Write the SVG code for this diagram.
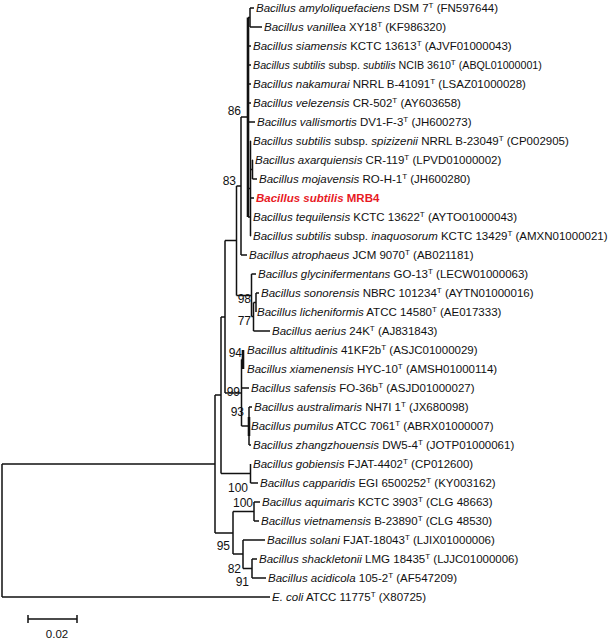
<svg xmlns="http://www.w3.org/2000/svg" width="610" height="642" viewBox="0 0 610 642">
<style>
text{font-family:"Liberation Sans",Arial,sans-serif;font-size:11.5px;fill:#111}
.i{font-style:italic}
.s{font-size:8px}
.bs{text-anchor:end;font-size:12px}
.red{fill:#e8191f;font-weight:bold}
.br{stroke:#111;stroke-width:1.5;fill:none}
.thick{stroke:#111;stroke-width:2.6;fill:none}
</style>
<rect width="610" height="642" fill="#fff"/>
<g id="connectors">
<path class="br" d="M2,464V597M2,464H215M2,597H270"/>
<path class="br" d="M215,395V533M215,395H221M215,533H233"/>
<path class="br" d="M221,317V473.5M221,317H225M221,473.5H250.5"/>
<path class="br" d="M225,240.5V393M225,240.5H236.5M225,393H241.5"/>
<path class="br" d="M236.5,186V295.5M236.5,186H241M236.5,295.5H251.5"/>
<path class="br" d="M241,117V255M241,117H248M241,255H247"/>
<path class="thick" d="M248,17.5V217"/>
<path class="br" d="M248,17.5H250M250,8V27M250,8H254M250,27H262"/>
<path class="br" d="M248,46H251M248,65H251M248,84H251M248,103H251M248,122H255M248,217H251"/>
<path class="br" d="M248,188.5H250.5M250.5,141V236M250.5,141H251M250.5,169.5H252.5M252.5,160V179M252.5,160H253M252.5,179H257M250.5,198H254M250.5,236H251"/>
<path class="br" d="M251.5,274V316.5M251.5,274H256M251.5,316.5H253.5M253.5,302.5V331M253.5,331H270M253.5,302.5H256M256,293V312M256,293H259"/>
<path class="thick" d="M243,350V369"/>
<path class="br" d="M241.5,359.5V426M241.5,359.5H243M241.5,388H249M241.5,426H249"/>
<path class="br" d="M249,407V445M249,407H252M249,445H251"/>
<path class="thick" d="M249,417V436"/>
<path class="br" d="M250.5,464V483M250.5,483H258"/>
<path class="br" d="M233,511.5V554M233,511.5H254M233,554H243"/>
<path class="br" d="M254,502V521M254,502H260M254,521H259"/>
<path class="br" d="M243,540V568.5M243,540H265M243,568.5H252"/>
<path class="br" d="M252,559V578M252,559H257M252,578H266"/>
<path class="br" d="M28,619H77M28,615V623M77,615V623"/>
</g>
<g id="bootstrap">
<text class="bs" x="241" y="115">86</text>
<text class="bs" x="236" y="185">83</text>
<text class="bs" x="251" y="303">98</text>
<text class="bs" x="251" y="325">77</text>
<text class="bs" x="242" y="357">94</text>
<text class="bs" x="240" y="396">99</text>
<text class="bs" x="244" y="416">93</text>
<text class="bs" x="248" y="492">100</text>
<text class="bs" x="253" y="507">100</text>
<text class="bs" x="230" y="550">95</text>
<text class="bs" x="241" y="573">82</text>
<text class="bs" x="249" y="586">91</text>
</g>
<g id="scale"><text x="57" y="638" text-anchor="middle" font-size="12">0.02</text></g>
<g id="leaf1"><text x="256" y="12"><tspan class="i">Bacillus amyloliquefaciens</tspan> DSM 7<tspan class="s" dy="-4">T</tspan><tspan dy="4"> (FN597644)</tspan></text></g>
<g id="leaf2"><text x="264" y="31"><tspan class="i">Bacillus vanillea</tspan> XY18<tspan class="s" dy="-4">T</tspan><tspan dy="4"> (KF986320)</tspan></text></g>
<g id="leaf3"><text x="253" y="50"><tspan class="i">Bacillus siamensis</tspan> KCTC 13613<tspan class="s" dy="-4">T</tspan><tspan dy="4"> (AJVF01000043)</tspan></text></g>
<g id="leaf4"><text x="253" y="69" style="font-size:10.7px"><tspan class="i">Bacillus subtilis</tspan> subsp. <tspan class="i">subtilis</tspan> NCIB 3610<tspan class="s" dy="-4">T</tspan><tspan dy="4"> (ABQL01000001)</tspan></text></g>
<g id="leaf5"><text x="253" y="88"><tspan class="i">Bacillus nakamurai</tspan> NRRL B-41091<tspan class="s" dy="-4">T</tspan><tspan dy="4"> (LSAZ01000028)</tspan></text></g>
<g id="leaf6"><text x="253" y="107"><tspan class="i">Bacillus velezensis</tspan> CR-502<tspan class="s" dy="-4">T</tspan><tspan dy="4"> (AY603658)</tspan></text></g>
<g id="leaf7"><text x="257" y="126"><tspan class="i">Bacillus vallismortis</tspan> DV1-F-3<tspan class="s" dy="-4">T</tspan><tspan dy="4"> (JH600273)</tspan></text></g>
<g id="leaf8"><text x="253" y="145"><tspan class="i">Bacillus subtilis</tspan> subsp. <tspan class="i">spizizenii</tspan> NRRL B-23049<tspan class="s" dy="-4">T</tspan><tspan dy="4"> (CP002905)</tspan></text></g>
<g id="leaf9"><text x="255" y="164"><tspan class="i">Bacillus axarquiensis</tspan> CR-119<tspan class="s" dy="-4">T</tspan><tspan dy="4"> (LPVD01000002)</tspan></text></g>
<g id="leaf10"><text x="259" y="183"><tspan class="i">Bacillus mojavensis</tspan> RO-H-1<tspan class="s" dy="-4">T</tspan><tspan dy="4"> (JH600280)</tspan></text></g>
<g id="leaf11"><text x="256" y="202" class="red"><tspan class="i">Bacillus subtilis</tspan> MRB4</text></g>
<g id="leaf12"><text x="253" y="221"><tspan class="i">Bacillus tequilensis</tspan> KCTC 13622<tspan class="s" dy="-4">T</tspan><tspan dy="4"> (AYTO01000043)</tspan></text></g>
<g id="leaf13"><text x="253" y="240"><tspan class="i">Bacillus subtilis</tspan> subsp. <tspan class="i">inaquosorum</tspan> KCTC 13429<tspan class="s" dy="-4">T</tspan><tspan dy="4"> (AMXN01000021)</tspan></text></g>
<g id="leaf14"><text x="249" y="259"><tspan class="i">Bacillus atrophaeus</tspan> JCM 9070<tspan class="s" dy="-4">T</tspan><tspan dy="4"> (AB021181)</tspan></text></g>
<g id="leaf15"><text x="258" y="278"><tspan class="i">Bacillus glycinifermentans</tspan> GO-13<tspan class="s" dy="-4">T</tspan><tspan dy="4"> (LECW01000063)</tspan></text></g>
<g id="leaf16"><text x="261" y="297"><tspan class="i">Bacillus sonorensis</tspan> NBRC 101234<tspan class="s" dy="-4">T</tspan><tspan dy="4"> (AYTN01000016)</tspan></text></g>
<g id="leaf17"><text x="257" y="316"><tspan class="i">Bacillus licheniformis</tspan> ATCC 14580<tspan class="s" dy="-4">T</tspan><tspan dy="4"> (AE017333)</tspan></text></g>
<g id="leaf18"><text x="272" y="335"><tspan class="i">Bacillus aerius</tspan> 24K<tspan class="s" dy="-4">T</tspan><tspan dy="4"> (AJ831843)</tspan></text></g>
<g id="leaf19"><text x="247" y="354"><tspan class="i">Bacillus altitudinis</tspan> 41KF2b<tspan class="s" dy="-4">T</tspan><tspan dy="4"> (ASJC01000029)</tspan></text></g>
<g id="leaf20"><text x="247" y="373"><tspan class="i">Bacillus xiamenensis</tspan> HYC-10<tspan class="s" dy="-4">T</tspan><tspan dy="4"> (AMSH01000114)</tspan></text></g>
<g id="leaf21"><text x="251" y="392"><tspan class="i">Bacillus safensis</tspan> FO-36b<tspan class="s" dy="-4">T</tspan><tspan dy="4"> (ASJD01000027)</tspan></text></g>
<g id="leaf22"><text x="254" y="411"><tspan class="i">Bacillus australimaris</tspan> NH7I 1<tspan class="s" dy="-4">T</tspan><tspan dy="4"> (JX680098)</tspan></text></g>
<g id="leaf23"><text x="251" y="430"><tspan class="i">Bacillus pumilus</tspan> ATCC 7061<tspan class="s" dy="-4">T</tspan><tspan dy="4"> (ABRX01000007)</tspan></text></g>
<g id="leaf24"><text x="253" y="449"><tspan class="i">Bacillus zhangzhouensis</tspan> DW5-4<tspan class="s" dy="-4">T</tspan><tspan dy="4"> (JOTP01000061)</tspan></text></g>
<g id="leaf25"><text x="253" y="468"><tspan class="i">Bacillus gobiensis</tspan> FJAT-4402<tspan class="s" dy="-4">T</tspan><tspan dy="4"> (CP012600)</tspan></text></g>
<g id="leaf26"><text x="260" y="487"><tspan class="i">Bacillus capparidis</tspan> EGI 6500252<tspan class="s" dy="-4">T</tspan><tspan dy="4"> (KY003162)</tspan></text></g>
<g id="leaf27"><text x="262" y="506"><tspan class="i">Bacillus aquimaris</tspan> KCTC 3903<tspan class="s" dy="-4">T</tspan><tspan dy="4"> (CLG 48663)</tspan></text></g>
<g id="leaf28"><text x="261" y="525"><tspan class="i">Bacillus vietnamensis</tspan> B-23890<tspan class="s" dy="-4">T</tspan><tspan dy="4"> (CLG 48530)</tspan></text></g>
<g id="leaf29"><text x="267" y="544"><tspan class="i">Bacillus solani</tspan> FJAT-18043<tspan class="s" dy="-4">T</tspan><tspan dy="4"> (LJIX01000006)</tspan></text></g>
<g id="leaf30"><text x="259" y="563"><tspan class="i">Bacillus shackletonii</tspan> LMG 18435<tspan class="s" dy="-4">T</tspan><tspan dy="4"> (LJJC01000006)</tspan></text></g>
<g id="leaf31"><text x="268" y="582"><tspan class="i">Bacillus acidicola</tspan> 105-2<tspan class="s" dy="-4">T</tspan><tspan dy="4"> (AF547209)</tspan></text></g>
<g id="leaf32"><text x="272" y="601"><tspan class="i">E. coli</tspan> ATCC 11775<tspan class="s" dy="-4">T</tspan><tspan dy="4"> (X80725)</tspan></text></g>
</svg>
